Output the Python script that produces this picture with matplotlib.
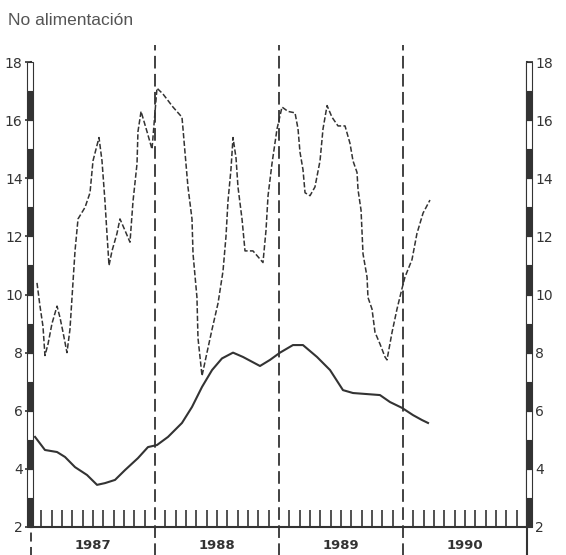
import matplotlib
matplotlib.use("Agg")
import matplotlib.pyplot as plt
import matplotlib.transforms as mtransforms
from matplotlib.patches import Rectangle

# months counted from January 1987
dashed_m = [0.58, 0.87, 1.16, 1.35, 1.65, 2.03, 2.52, 2.81, 3.10, 3.48, 3.77, 4.06, 4.26, 4.55,
            5.23, 5.71, 6.00, 6.58, 6.87, 7.16, 7.35, 7.55, 7.84, 8.32, 8.61, 9.10, 9.58, 9.87,
            10.26, 10.35, 10.65, 11.23, 11.71, 12.19, 12.77, 13.74, 14.61, 14.71, 14.90, 15.19,
            15.58, 15.68, 16.06, 16.16, 16.55, 17.03, 17.52, 18.10, 18.58, 18.87, 19.06, 19.35,
            19.55, 19.84, 20.03, 20.42, 20.71, 21.48, 22.45, 22.74, 22.94, 23.32, 23.81, 24.29,
            24.87, 25.55, 25.84, 26.03, 26.32, 26.52, 27.00, 27.48, 27.97, 28.26, 28.65, 29.13,
            29.71, 30.39, 30.87, 31.16, 31.55, 31.65, 31.94, 32.13, 32.52, 32.61, 33.00, 33.29,
            33.77, 34.26, 34.45, 34.94, 35.42, 35.90, 36.19, 36.87, 37.35, 37.94, 38.61]
dashed_v = [10.4, 9.6, 8.9, 7.9, 8.3, 9.0, 9.6, 9.2, 8.7, 8.0, 8.8, 10.4, 11.5, 12.6,
            13.0, 13.5, 14.6, 15.4, 14.6, 13.2, 12.1, 11.0, 11.5, 12.1, 12.6, 12.2, 11.8, 13.2,
            14.5, 15.6, 16.3, 15.6, 15.0, 17.1, 16.9, 16.45, 16.1, 15.7, 14.9, 13.7,
            12.6, 11.4, 9.9, 8.5, 7.2, 8.0, 8.8, 9.7, 10.8, 12.0, 13.2, 14.3,
            15.4, 14.7, 13.7, 12.6, 11.5, 11.5, 11.1, 12.2, 13.4, 14.5, 15.7, 16.45,
            16.3, 16.25, 15.7, 14.9, 14.3, 13.5, 13.4, 13.7, 14.6, 15.7, 16.5, 16.1,
            15.8, 15.8, 15.2, 14.6, 14.2, 13.6, 12.9, 11.4, 10.6, 9.9, 9.5, 8.7,
            8.3, 7.85, 7.75, 8.7, 9.5, 10.2, 10.6, 11.2, 12.1, 12.8, 13.25]

solid_m = [0.39, 1.35, 2.52, 3.29, 4.26, 5.42, 6.39, 7.16, 8.13, 9.10, 10.35, 11.32, 12.19,
           13.26, 14.61, 15.58, 16.55, 17.52, 18.48, 19.55, 20.52, 22.16, 23.13, 24.10, 25.35,
           26.32, 27.68, 28.94, 30.19, 31.16, 33.77, 34.74, 35.90, 36.97, 37.84, 38.42]
solid_v = [5.10, 4.65, 4.58, 4.41, 4.06, 3.79, 3.45, 3.51, 3.62, 3.96, 4.37, 4.75, 4.82,
           5.10, 5.58, 6.13, 6.82, 7.40, 7.80, 8.00, 7.85, 7.54, 7.75, 8.00, 8.26,
           8.26, 7.85, 7.40, 6.71, 6.61, 6.54, 6.30, 6.10, 5.85, 5.68, 5.58]

years = ["1987", "1988", "1989", "1990"]
y_ticks = [2, 4, 6, 8, 10, 12, 14, 16, 18]

ink = "#333333"

fig = plt.figure(figsize=(5.66, 5.55), dpi=100)
ax = fig.add_axes([31 / 566, 28 / 555, 496 / 566, 465 / 555])
ax.set_xlim(0, 48)
ax.set_ylim(2, 18)

ax.plot(dashed_m, dashed_v, color=ink, lw=1.1, ls=(0, (3.5, 1.5)))
ax.plot(solid_m, solid_v, color=ink, lw=1.5)

ax.spines["top"].set_visible(False)
for s in ["left", "right", "bottom"]:
    ax.spines[s].set_color(ink)
    ax.spines[s].set_linewidth(1.5)

ax.set_yticks(y_ticks)
ax.tick_params(axis="y", which="major", direction="out", length=4, width=1.2,
               colors=ink, labelsize=10, left=True, right=True,
               labelleft=True, labelright=True, pad=2)

ax.set_xticks([])
month_ticks = [m for m in range(1, 48) if m % 12 != 0]
ax.set_xticks(month_ticks, minor=True)
ax.tick_params(axis="x", which="minor", direction="in", length=12, width=1.2, color=ink)

# ruler bars on both vertical axes
trans = mtransforms.blended_transform_factory(ax.transAxes, ax.transData)
for y in range(2, 18):
    fill = ink if y % 2 == 0 else "white"
    ax.add_patch(Rectangle((-0.008, y), 0.013, 1, transform=trans, facecolor=fill,
                           edgecolor=ink, lw=0.8, clip_on=False, zorder=3))
    ax.add_patch(Rectangle((0.998, y), 0.013, 1, transform=trans, facecolor=fill,
                           edgecolor=ink, lw=0.8, clip_on=False, zorder=3))

# year dividers
for m in [12, 24, 36]:
    ax.plot([m, m], [1.0, 18.6], color=ink, lw=1.3, ls=(0, (7, 3)), clip_on=False)
ax.plot([0, 0], [0.95, 2], color=ink, lw=1.3, ls=(0, (5, 3)), clip_on=False)
ax.plot([48, 48], [0.95, 2], color=ink, lw=1.5, clip_on=False)

for i, lab in enumerate(years):
    ax.text(6 + 12 * i, 1.38, lab, ha="center", va="center", fontsize=9.5,
            color=ink, fontweight="bold")

fig.text(0.014, 0.963, "No alimentación", color="#555555", fontsize=12.5,
         family="Liberation Sans", va="center", ha="left")

plt.savefig("out.png", dpi=100)
